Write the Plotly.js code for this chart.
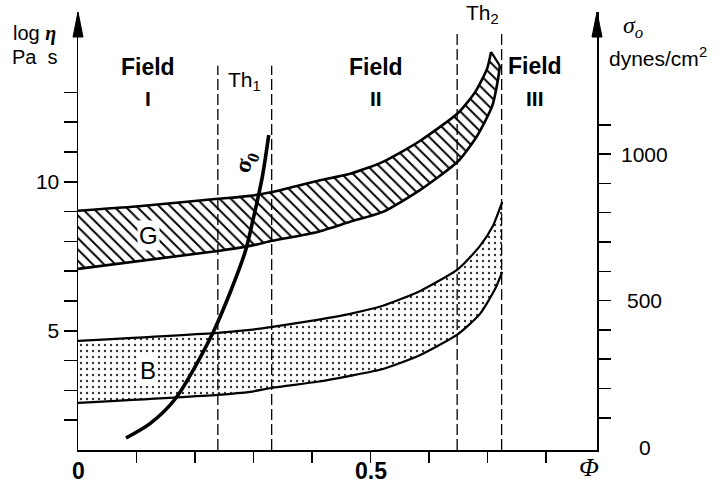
<!DOCTYPE html>
<html>
<head>
<meta charset="utf-8">
<script src="https://cdn.plot.ly/plotly-3.0.1.min.js"></script>
<style>html,body{margin:0;padding:0;background:#fff;}#chart{width:723px;height:484px;}</style>
</head>
<body>
<div id="chart"></div>
<script>
// ---- data ----
const gUpperX = [0, 0.099, 0.239, 0.294, 0.332, 0.409, 0.465, 0.521, 0.585, 0.650, 0.679, 0.699, 0.706];
const gUpperY = [9.03, 9.17, 9.43, 9.53, 9.66, 10.03, 10.27, 10.67, 11.38, 12.32, 13.02, 13.79, 14.36];
const gLowerX = [0, 0.239, 0.294, 0.332, 0.409, 0.465, 0.521, 0.585, 0.650, 0.682, 0.708, 0.718, 0.721];
const gLowerY = [7.08, 7.68, 7.85, 8.02, 8.32, 8.66, 8.99, 9.73, 10.70, 11.54, 12.55, 13.46, 13.89];

const bUpperX = [0, 0.239, 0.294, 0.332, 0.409, 0.465, 0.521, 0.585, 0.650, 0.687, 0.709, 0.725];
const bUpperY = [4.66, 4.93, 5.03, 5.13, 5.37, 5.57, 5.84, 6.34, 7.08, 7.85, 8.52, 9.33];
const bLowerX = [0, 0.239, 0.294, 0.332, 0.409, 0.465, 0.521, 0.585, 0.650, 0.687, 0.713, 0.725];
const bLowerY = [2.58, 2.85, 2.95, 3.09, 3.29, 3.49, 3.72, 4.19, 4.90, 5.57, 6.41, 6.98];

const sigmaX = [0.082, 0.123, 0.166, 0.231, 0.285, 0.299, 0.315, 0.326];
const sigmaY = [31, 80, 164, 392, 662, 775, 922, 1065];

const thresholdX = [0.239, 0.331, 0.648, 0.724];
const thresholdTop = [13.9, 13.9, 15.1, 15.1];

const xTickVals = [0.1, 0.2, 0.3, 0.4, 0.5, 0.6, 0.7, 0.8];
const xLabelVals = [0, 0.5];
const xLabelText = ['0', '0.5'];
const yLabelVals = [5, 10];
const yTickVals = [2, 3, 4, 6, 7, 8, 9, 11, 12, 13];
const y2TickVals = [100, 200, 300, 400, 500, 600, 700, 800, 900, 1000, 1100];
const y2LabelVals = [0, 500, 1000];

// ---- build traces ----
const dashX = [], dashY = [];
thresholdX.forEach((t, i) => { dashX.push(t, t, null); dashY.push(1, thresholdTop[i], null); });
const gCapX = [gUpperX[gUpperX.length - 1], gLowerX[gLowerX.length - 1]];
const gCapY = [gUpperY[gUpperY.length - 1], gLowerY[gLowerY.length - 1]];

const SANS = 'Liberation Sans, Arial, sans-serif';
const SERIF = 'Liberation Serif, DejaVu Serif, serif';
const SP = {shape: 'spline', smoothing: 0.6};

const traces = [
  {x: gLowerX, y: gLowerY, mode: 'lines', line: Object.assign({width: 0}, SP), hoverinfo: 'skip', showlegend: false},
  {x: gUpperX, y: gUpperY, mode: 'lines', fill: 'tonexty', line: Object.assign({width: 0}, SP),
   fillcolor: 'white', fillpattern: {shape: '\\', size: 8, solidity: 0.24, fgcolor: '#000', bgcolor: '#fff'},
   hoverinfo: 'skip', showlegend: false},
  {x: bLowerX, y: bLowerY, mode: 'lines', line: Object.assign({width: 0}, SP), hoverinfo: 'skip', showlegend: false},
  {x: bUpperX, y: bUpperY, mode: 'lines', fill: 'tonexty', line: Object.assign({width: 0}, SP),
   fillcolor: 'white', fillpattern: {shape: '.', size: 6, solidity: 0.12, fgcolor: '#333', bgcolor: '#fff'},
   hoverinfo: 'skip', showlegend: false},
  {x: gUpperX, y: gUpperY, mode: 'lines', line: Object.assign({color: '#000', width: 2.6}, SP), showlegend: false},
  {x: gLowerX, y: gLowerY, mode: 'lines', line: Object.assign({color: '#000', width: 2.6}, SP), showlegend: false},
  {x: gCapX, y: gCapY, mode: 'lines', line: {color: '#000', width: 2.2}, showlegend: false},
  {x: bUpperX, y: bUpperY, mode: 'lines', line: Object.assign({color: '#000', width: 2.2}, SP), showlegend: false},
  {x: bLowerX, y: bLowerY, mode: 'lines', line: Object.assign({color: '#000', width: 2.2}, SP), showlegend: false},
  {x: dashX, y: dashY, mode: 'lines', line: {color: '#000', width: 1.3, dash: '11px,4px'}, showlegend: false},
  {x: sigmaX, y: sigmaY, yaxis: 'y2', mode: 'lines', line: {color: '#000', width: 3.6, shape: 'spline', smoothing: 0.8}, showlegend: false}
];

// ---- annotations ----
const ann = [];
function txt(text, x, y, size, opts) {
  ann.push(Object.assign({text: text, x: x, y: y, xref: 'x', yref: 'y', xanchor: 'center', yanchor: 'middle',
    showarrow: false, font: {family: SANS, size: size, color: '#000'}}, opts || {}));
}
txt('<b>Field</b>', 0.120, 13.86, 23);
txt('<b>I</b>', 0.120, 12.79, 21);
txt('<b>Field</b>', 0.509, 13.86, 23);
txt('<b>II</b>', 0.509, 12.79, 21);
txt('<b>Field</b>', 0.781, 13.90, 23);
txt('<b>III</b>', 0.781, 12.79, 21);
txt('Th<sub>1</sub>', 0.285, 13.40, 21);
txt('Th<sub>2</sub>', 0.692, 15.62, 21);
txt('G', 0.120, 8.19, 24, {bgcolor: '#fff', borderpad: 1});
txt('B', 0.120, 3.66, 24, {bgcolor: '#fff', borderpad: 1});
txt('<b>σ<sub>0</sub></b>', 0.288, 10.65, 24, {textangle: -72, font: {family: SERIF, size: 24, color: '#000'}});

function ptxt(text, x, y, size, opts) {
  ann.push(Object.assign({text: text, x: x, y: y, xref: 'paper', yref: 'paper', xanchor: 'center', yanchor: 'middle',
    showarrow: false, font: {family: SANS, size: size, color: '#000'}}, opts || {}));
}
ptxt('log <b><i><span style="font-family:Liberation Serif">η</span></i></b>', -0.083, 0.952, 20);
ptxt('Pa  s', -0.083, 0.897, 20);
ptxt('<i>σ<sub>o</sub></i>', 1.069, 0.966, 24, {font: {family: SERIF, size: 24, color: '#000'}});
ptxt('dynes/cm<sup>2</sup>', 1.118, 0.898, 21);
ptxt('<i>Φ</i>', 0.985, -0.041, 26, {font: {family: SERIF, size: 26, color: '#000'}});
y2LabelVals.forEach(v => {
  ann.push({text: String(v), x: 1.092, y: v, xref: 'paper', yref: 'y2', xanchor: 'center', yanchor: 'middle',
    showarrow: false, font: {family: SANS, size: 21, color: '#000'}});
});
xLabelVals.forEach((v, i) => {
  ann.push({text: '<b>' + xLabelText[i] + '</b>', x: v, y: 0, xref: 'x', yref: 'paper', xanchor: 'center',
    yanchor: 'middle', yshift: -21, showarrow: false, font: {family: SANS, size: 23, color: '#000'}});
});

// arrowheads on the two vertical axes
const hw = 5 / 519, ah = 25 / 438;
const shapes = [0, 1].map(px => ({
  type: 'path', xref: 'paper', yref: 'paper',
  path: `M ${px - hw} ${1 - ah} L ${px} 1 L ${px + hw} ${1 - ah} Z`,
  fillcolor: '#000', line: {color: '#000', width: 1}
}));

const layout = {
  width: 723, height: 484,
  margin: {l: 78, r: 126, t: 12, b: 34, pad: 0},
  paper_bgcolor: '#fff', plot_bgcolor: '#fff',
  showlegend: false,
  xaxis: {range: [0, 0.887], showgrid: false, zeroline: false, showline: true, linecolor: '#000', linewidth: 2,
          ticks: 'outside', ticklen: 11, tickwidth: 1.5, tickcolor: '#000',
          tickvals: xTickVals, showticklabels: false, fixedrange: true},
  yaxis: {range: [1, 15.70], showgrid: false, zeroline: false, showline: true, linecolor: '#000', linewidth: 1.5,
          ticks: 'outside', ticklen: 13, tickwidth: 1.5, tickcolor: '#000',
          tickvals: yLabelVals, tickfont: {family: SANS, size: 21, color: '#000'},
          minor: {tickvals: yTickVals, ticks: 'outside', ticklen: 13, tickwidth: 1.5, tickcolor: '#000', showgrid: false},
          fixedrange: true},
  yaxis2: {range: [-10, 1485], overlaying: 'y', side: 'right', showgrid: false, zeroline: false, showline: true,
           linecolor: '#000', linewidth: 1.5, ticks: 'outside', ticklen: 12, tickwidth: 1.5, tickcolor: '#000',
           tickvals: y2TickVals, showticklabels: false, fixedrange: true},
  annotations: ann,
  shapes: shapes
};

Plotly.newPlot('chart', traces, layout, {displayModeBar: false, staticPlot: true});
</script>
</body>
</html>
